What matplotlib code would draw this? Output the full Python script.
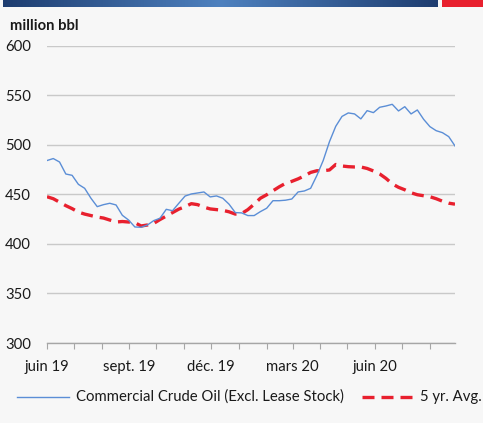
import matplotlib
matplotlib.use("Agg")
import matplotlib.pyplot as plt
import numpy as np
import pandas as pd
from matplotlib.lines import Line2D
from matplotlib.patches import Rectangle
from matplotlib.colors import LinearSegmentedColormap

# ---------------- data ----------------
dates = pd.date_range("2019-06-07", periods=66, freq="7D")

crude = [484.0, 486.0, 482.5, 470.4, 469.1, 460.0, 456.0, 446.0, 437.5, 439.5,
         440.9, 439.2, 428.8, 424.0, 417.0, 416.7, 419.0, 423.4, 425.8, 434.8,
         433.4, 440.9, 448.2, 450.3, 451.3, 452.3, 447.3, 448.3, 446.0, 440.0,
         431.5, 431.2, 428.5, 428.5, 432.5, 435.9, 443.5, 443.5, 444.0, 445.2,
         452.3, 453.3, 456.0, 469.0, 484.0, 503.0, 518.5, 528.5, 532.0, 531.0,
         526.0, 534.3, 532.3, 537.7, 539.0, 540.7, 534.0, 538.3, 531.0, 535.0,
         525.6, 518.2, 514.1, 512.1, 508.1, 498.7]

avg5 = [447.5, 445.5, 442.0, 438.5, 435.5, 432.0, 430.0, 428.5, 427.0, 426.0,
        424.0, 422.0, 422.5, 422.0, 421.3, 418.0, 419.0, 420.6, 424.5, 428.0,
        431.5, 435.0, 437.5, 440.5, 439.5, 437.0, 435.2, 434.5, 433.8, 432.3,
        430.0, 430.5, 434.5, 440.0, 446.0, 449.5, 453.5, 457.5, 461.0, 463.0,
        465.5, 468.5, 472.0, 473.7, 473.7, 474.5, 480.0, 478.5, 477.8, 477.5,
        477.5, 476.0, 473.5, 470.5, 466.0, 460.5, 457.0, 454.5, 451.5, 449.5,
        448.5, 447.5, 445.5, 443.0, 441.0, 440.0]

series_names = ["Commercial Crude Oil (Excl. Lease Stock)", "5 yr. Avg."]
y_ticks = [300, 350, 400, 450, 500, 550, 600]
x_tick_labels = {0: "juin 19", 3: "sept. 19", 6: "déc. 19", 9: "mars 20", 12: "juin 20"}
unit_label = "million bbl"

# ---------------- style ----------------
BG = "#F7F7F7"
BLUE = "#5B8ED6"
RED = "#E8202E"
GRID = "#C9C9C9"
TXT = "#1A1A1A"
FS = 10.7
DASH = (3.6, 2.1)
plt.rcParams['font.family'] = ['Lato', 'DejaVu Sans']

W, H = 483, 423
fig = plt.figure(figsize=(W / 100, H / 100), dpi=100, facecolor=BG)

# top banner
cmap = LinearSegmentedColormap.from_list("b", ["#1E3D70", "#4E81BF", "#1E3D70"])
grad = np.linspace(0, 1, 256)[None, :]
bax = fig.add_axes([3 / W, 1 - 7.5 / H, (437.5 - 3) / W, 7.5 / H])
bax.imshow(grad, aspect="auto", cmap=cmap)
bax.axis("off")
fig.add_artist(Rectangle((442 / W, 1 - 7.5 / H), (W - 442) / W, 7.5 / H,
                         transform=fig.transFigure, color=RED, lw=0))

# main axes
left, right, top, bottom = 47, 455, 45.5, 343
ax = fig.add_axes([left / W, (H - bottom) / H, (right - left) / W, (bottom - top) / H])
ax.set_facecolor(BG)

ax.plot(dates, crude, color=BLUE, lw=1.0, zorder=3)
ax.plot(dates, avg5, color=RED, lw=2.4, dashes=DASH, zorder=2)

ax.set_ylim(300, 600)
ax.set_yticks(y_ticks)
ax.set_xlim(dates[0], dates[-1])

# month ticks from first date
tick_dates = [dates[0] + pd.DateOffset(months=k) for k in range(15)]
ax.set_xticks(tick_dates)
ax.set_xticklabels([x_tick_labels.get(k, "") for k in range(15)])

ax.grid(axis="y", color=GRID, lw=1.0)
ax.set_axisbelow(True)
for s in ["top", "right", "left"]:
    ax.spines[s].set_visible(False)
ax.spines["bottom"].set_color("#A6A6A6")
ax.spines["bottom"].set_linewidth(1.0)
ax.tick_params(axis="y", length=0, pad=0, labelsize=FS, labelcolor=TXT)
ax.tick_params(axis="x", length=4, color="#A6A6A6", pad=8, labelsize=FS, labelcolor=TXT)
for lab in ax.get_yticklabels():
    lab.set_horizontalalignment("left")
    lab.set_transform(ax.get_yaxis_transform())
    lab.set_position((-42 / (right - left), 0))

# unit label
fig.text(10 / W, 1 - 26 / H, unit_label, fontsize=FS, fontweight="bold",
         color=TXT, va="center", ha="left")

# legend (manual)
ly = 1 - 397 / H
fig.add_artist(Line2D([17 / W, 69 / W], [ly, ly], transform=fig.transFigure,
                      color=BLUE, lw=1.0))
fig.text(76 / W, ly, series_names[0], fontsize=FS, color=TXT, va="center", ha="left")
fig.add_artist(Line2D([362 / W, 414 / W], [ly, ly], transform=fig.transFigure,
                      color=RED, lw=2.4, dashes=DASH))
fig.text(420 / W, ly, series_names[1], fontsize=FS, color=TXT, va="center", ha="left")

fig.savefig("out.png", dpi=100, facecolor=BG)
